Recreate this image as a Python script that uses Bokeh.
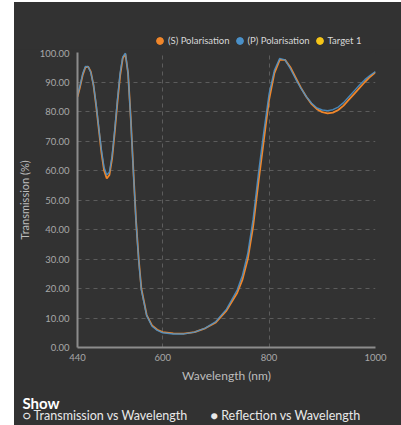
from bokeh.plotting import figure
from bokeh.layouts import column
from bokeh.models import (ColumnDataSource, FixedTicker, NumeralTickFormatter,
                          Legend, LegendItem, Label)
from bokeh.embed import file_html
from bokeh.resources import INLINE

# ---- data ----
wavelength = [440, 445, 450, 455, 460, 465, 470, 475, 480, 485, 490, 495, 500, 505, 510,
              515, 520, 525, 530, 535, 540, 545, 550, 555, 560, 570, 580, 590, 600, 620,
              640, 660, 680, 700, 720, 740, 750, 760, 770, 780, 790, 800, 810, 820, 830,
              840, 850, 860, 870, 880, 890, 900, 910, 920, 930, 940, 950, 960, 970, 980,
              990, 1000]
s_pol = [85.0, 88.5, 92.5, 95.0, 95.2, 93.5, 89.0, 82.0, 74.0, 66.0, 60.0, 57.3, 58.5, 64.0, 73.0,
         83.0, 92.0, 98.0, 99.5, 93.0, 78.0, 60.0, 43.0, 30.0, 20.0, 11.0, 7.5, 6.0, 5.2, 4.8,
         4.7, 5.2, 6.5, 8.5, 12.5, 18.5, 23.0, 30.0, 41.0, 56.0, 70.0, 84.0, 93.0, 97.5, 97.5,
         95.0, 91.5, 88.0, 85.0, 82.5, 80.8, 79.8, 79.4, 79.6, 80.5, 82.0, 84.0, 86.0, 88.0, 90.0,
         91.8, 93.3]
p_pol = [85.5, 89.0, 93.0, 95.3, 95.2, 93.2, 89.0, 82.5, 74.5, 67.0, 61.0, 58.5, 59.5, 65.0, 74.0,
         84.0, 93.0, 98.5, 99.8, 93.0, 77.5, 59.5, 42.5, 29.5, 19.5, 10.8, 7.2, 5.8, 5.0, 4.6,
         4.6, 5.2, 6.6, 8.8, 13.0, 19.5, 24.5, 32.0, 43.5, 59.0, 73.0, 86.0, 94.0, 98.0, 97.5,
         94.5, 91.0, 87.8, 85.0, 82.8, 81.2, 80.5, 80.3, 80.6, 81.5, 83.0, 85.0, 87.0, 89.0, 90.8,
         92.3, 93.5]
x_ticks = [440, 600, 800, 1000]
y_ticks = [0, 10, 20, 30, 40, 50, 60, 70, 80, 90, 100]
series_names = ["(S) Polarisation", "(P) Polarisation", "Target 1"]
series_colors = ["#f0862a", "#4a90c8", "#f5c518"]
options = ["○ Transmission vs Wavelength", "● Reflection vs Wavelength"]

BG = "#323232"
FONT = "Lato"
W = 387

common = dict(output_backend="svg", toolbar_location=None,
              background_fill_color=BG, border_fill_color=BG, outline_line_color=None,
              frame_align=False)

src = ColumnDataSource(dict(x=wavelength, s=s_pol, p=p_pol))

# ---- top strip with legend (legend keys only; series drawn in main chart) ----
p0 = figure(width=W, height=47, x_axis_type=None, y_axis_type=None, min_border=0, **common)
p0.grid.visible = False
leg_items = []
for name, col, ycol in zip(series_names, series_colors, ["s", "p", "s"]):
    r = p0.scatter("x", ycol, source=src, size=7, fill_color=col, line_color=col, visible=False)
    leg_items.append(LegendItem(label=name, renderers=[r]))
legend = Legend(items=leg_items, orientation="horizontal", location=(137, 0),
                background_fill_alpha=0, border_line_color=None, padding=0, margin=0,
                glyph_width=17, glyph_height=17, label_standoff=0, spacing=1,
                inactive_fill_alpha=0, click_policy="none",
                label_text_font=FONT, label_text_font_size="9.5px", label_text_color="#d8d8d8")
p0.add_layout(legend)

# ---- main chart ----
p = figure(width=W, height=337, x_range=(440, 1000), y_range=(0, 100),
           min_border_left=61, min_border_right=26, min_border_top=3, min_border_bottom=39,
           **common)

p.line("x", "s", source=src, line_color=series_colors[0], line_width=1.8)
p.line("x", "p", source=src, line_color=series_colors[1], line_width=1.4, line_alpha=0.9)

for ax in (p.xaxis[0], p.yaxis[0]):
    ax.axis_line_color = "#8c8c8c"
    ax.axis_line_width = 2
    ax.major_tick_line_color = None
    ax.minor_tick_line_color = None
    ax.major_label_text_font = FONT
    ax.major_label_text_font_size = "9.5px"
    ax.major_label_text_color = "#a8a8a8"
    ax.axis_label_text_font = FONT
    ax.axis_label_text_font_style = "normal"
    ax.axis_label_text_color = "#bdbdbd"

p.xaxis.ticker = FixedTicker(ticks=x_ticks)
p.yaxis.ticker = FixedTicker(ticks=y_ticks)
p.yaxis.formatter = NumeralTickFormatter(format="0.00")
p.xaxis.axis_label = "Wavelength (nm)"
p.yaxis.axis_label = "Transmission (%)"
p.xaxis.axis_label_text_font_size = "12px"
p.yaxis.axis_label_text_font_size = "11px"
p.xaxis.major_label_standoff = 0
p.yaxis.major_label_standoff = 2
p.xaxis.axis_label_standoff = 4
p.yaxis.axis_label_standoff = 6

p.xgrid.grid_line_color = "#5c5c5c"
p.ygrid.grid_line_color = "#5c5c5c"
p.xgrid.grid_line_dash = "4 4"
p.ygrid.grid_line_dash = "4 4"

# ---- bottom controls strip ----
p2 = figure(width=W, height=39, x_axis_type=None, y_axis_type=None, min_border=0, **common)
p2.grid.visible = False
p2.add_layout(Label(x=8, y=23, x_units="screen", y_units="screen", text="Show",
                    text_font=FONT, text_font_size="15px", text_font_style="bold",
                    text_color="#ffffff", text_baseline="middle"))
p2.add_layout(Label(x=8, y=10, x_units="screen", y_units="screen", text=options[0],
                    text_font=FONT, text_font_size="12.5px", text_color="#e8e8e8",
                    text_baseline="middle"))
p2.add_layout(Label(x=196, y=10, x_units="screen", y_units="screen", text=options[1],
                    text_font=FONT, text_font_size="12.5px", text_color="#e8e8e8",
                    text_baseline="middle"))

layout = column(p0, p, p2, spacing=0, margin=(2, 0, 0, 14),
                styles={"background-color": BG})
open("out.html", "w").write(file_html(layout, INLINE))
